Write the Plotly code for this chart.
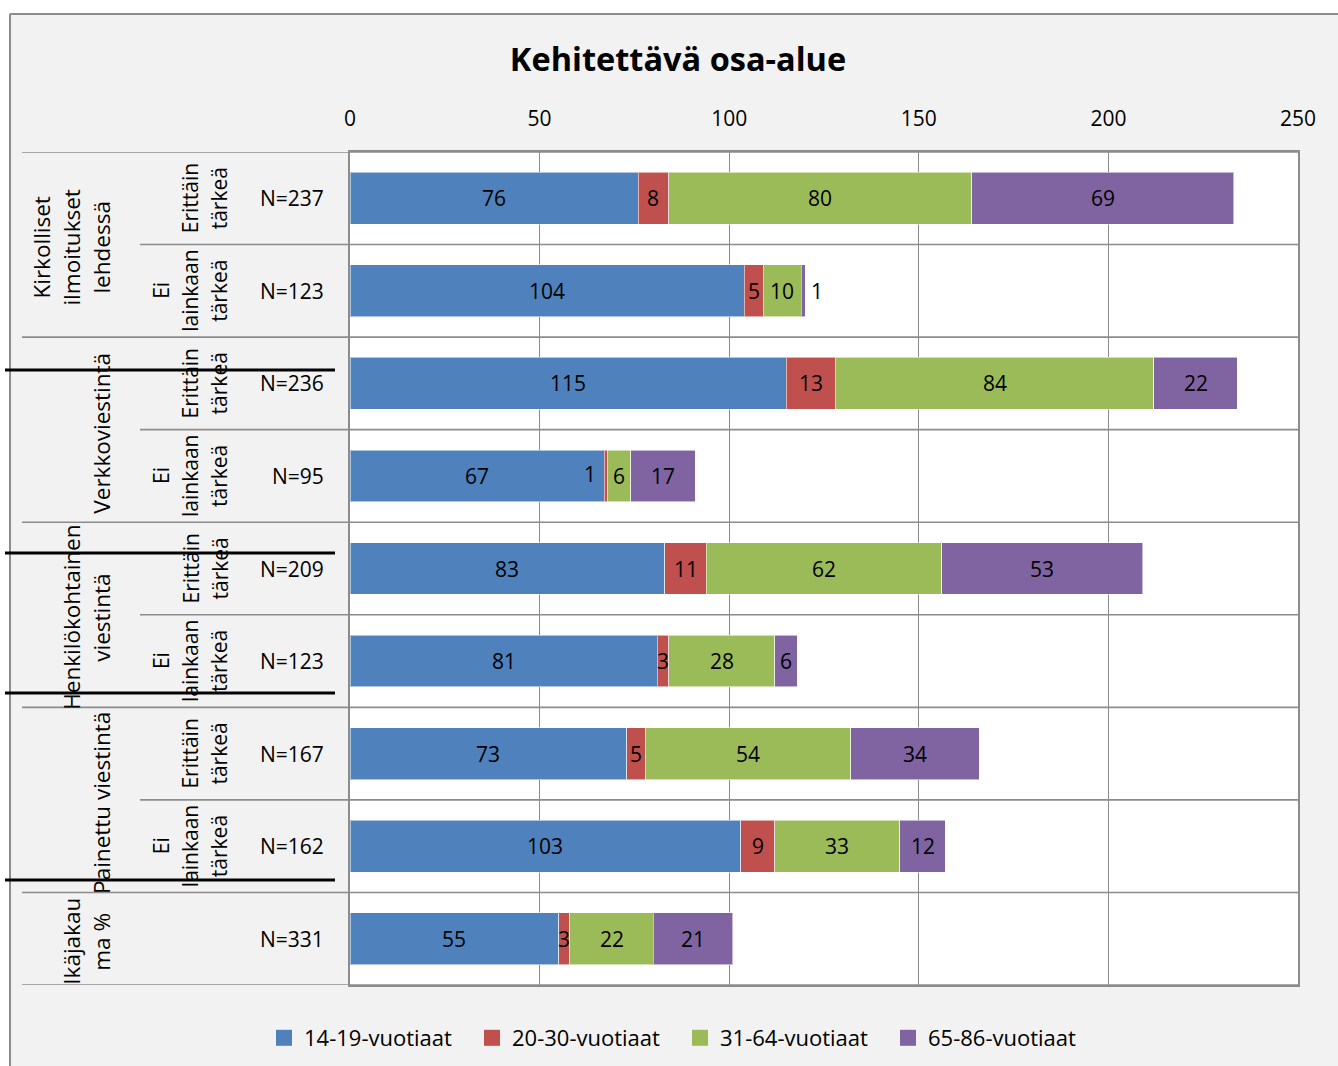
import plotly.graph_objects as go

# ---- data -------------------------------------------------------------
series_names = ["14-19-vuotiaat", "20-30-vuotiaat", "31-64-vuotiaat", "65-86-vuotiaat"]
series_colors = ["#4f81bd", "#c0504d", "#9bbb59", "#8064a2"]

age_14_19 = [76, 104, 115, 67, 83, 81, 73, 103, 55]
age_20_30 = [8, 5, 13, 1, 11, 3, 5, 9, 3]
age_31_64 = [80, 10, 84, 6, 62, 28, 54, 33, 22]
age_65_86 = [69, 1, 22, 17, 53, 6, 34, 12, 21]

n_labels = ["N=237", "N=123", "N=236", "N=95", "N=209", "N=123", "N=167", "N=162", "N=331"]
importance = [["Erittäin", "tärkeä"], ["Ei", "lainkaan", "tärkeä"]] * 4 + [[]]
groups = [
    (["Kirkolliset", "ilmoitukset", "lehdessä"], 0, 1),
    (["Verkkoviestintä"], 2, 3),
    (["Henkilökohtainen", "viestintä"], 4, 5),
    (["Painettu viestintä"], 6, 7),
    (["Ikäjakau", "ma %"], 8, 8),
]

x_ticks = [0, 50, 100, 150, 200, 250]

# ---- geometry helpers (pixel -> paper) ---------------------------------
W, H = 1338, 1066
L, R, T, B = 350, 40, 152, 81
PW, PH = W - L - R, H - T - B


def px(xp):
    return (xp - L) / PW


def py(yp):
    return (H - B - yp) / PH


FONT = "Open Sans"
GRID = "#8c8c8c"
rows = list(range(len(n_labels)))
all_series = [age_14_19, age_20_30, age_31_64, age_65_86]

fig = go.Figure()
for name, color, vals in zip(series_names, series_colors, all_series):
    fig.add_trace(go.Bar(
        y=rows, x=vals, name=name, orientation="h", showlegend=False,
        marker=dict(color=color, line=dict(color="rgba(255,255,255,0.55)", width=1)),
        width=0.56, hoverinfo="x+name",
    ))
# legend entries with square swatches
for name, color in zip(series_names, series_colors):
    fig.add_trace(go.Scatter(
        x=[None], y=[None], mode="markers", name=name,
        marker=dict(symbol="square", size=18, color=color),
    ))

annotations = []
shapes = []

# value labels on the bar segments
for r in rows:
    start = 0
    n_seg = len(all_series)
    for k, vals in enumerate(all_series):
        v = vals[r]
        ann = dict(x=start + v / 2, y=r, xref="x", yref="y", text=str(v), xanchor="center",
                   showarrow=False, font=dict(family=FONT, size=21, color="#000"))
        if v < 2:
            if k == n_seg - 1:
                ann.update(x=start + v, xanchor="left", xshift=4)
            else:
                ann.update(x=start, xanchor="right", xshift=-6, yshift=2)
        annotations.append(ann)
        start += v

# N labels
for r, lab in enumerate(n_labels):
    annotations.append(dict(x=px(326), y=r, xref="paper", yref="y", text=lab,
                            xanchor="right", showarrow=False,
                            font=dict(family=FONT, size=21, color="#000")))

# importance labels (rotated, one annotation per line)
for r, lines in enumerate(importance):
    n = len(lines)
    for k, line in enumerate(lines):
        xc = 219 - 29 * (n - 1 - k)
        annotations.append(dict(x=px(xc), y=r, xref="paper", yref="y", text=line,
                                textangle=-90, showarrow=False, xanchor="center",
                                yanchor="middle",
                                font=dict(family=FONT, size=21, color="#000")))

# group labels
for lines, r0, r1 in groups:
    n = len(lines)
    for k, line in enumerate(lines):
        xc = 102 - 30 * (n - 1 - k)
        annotations.append(dict(x=px(xc), y=(r0 + r1) / 2, xref="paper", yref="y", text=line,
                                textangle=-90, showarrow=False, xanchor="center",
                                yanchor="middle", yshift=-3,
                                font=dict(family=FONT, size=22.5, color="#000")))

# row separators: full width between groups, shorter between sub rows
group_starts = {g[1] for g in groups}
for b in range(len(rows) + 1):
    yb = b - 0.5
    x0 = px(22) if (b in group_starts or b == len(rows)) else px(140)
    shapes.append(dict(type="line", xref="paper", yref="y", x0=x0, x1=1, y0=yb, y1=yb,
                       line=dict(color=GRID, width=1.6), layer="above"))

# outer chart border and white margin strips
shapes += [
    dict(type="rect", xref="paper", yref="paper", x0=px(0), x1=px(10), y0=py(H + 5), y1=py(-5),
         fillcolor="white", line=dict(width=0), layer="above"),
    dict(type="rect", xref="paper", yref="paper", x0=px(0), x1=px(W + 5), y0=py(14), y1=py(-5),
         fillcolor="white", line=dict(width=0), layer="above"),
    dict(type="line", xref="paper", yref="paper", x0=px(10), x1=px(10), y0=py(14), y1=py(H + 5),
         line=dict(color=GRID, width=2), layer="above"),
    dict(type="line", xref="paper", yref="paper", x0=px(10), x1=px(W + 5), y0=py(14), y1=py(14),
         line=dict(color=GRID, width=2), layer="above"),
]

# black marker strokes across the label column
for yb in [370, 553, 693, 880]:
    shapes.append(dict(type="line", xref="paper", yref="paper", x0=px(5), x1=px(335),
                       y0=py(yb), y1=py(yb), line=dict(color="#000", width=3), layer="above"))

fig.update_layout(
    width=W, height=H,
    margin=dict(l=L, r=R, t=T, b=B, pad=0),
    paper_bgcolor="#f2f2f2", plot_bgcolor="white",
    barmode="stack", bargap=0.44,
    font=dict(family=FONT, size=21, color="#000"),
    title=dict(text="<b>Kehitettävä osa-alue</b>", x=678 / W, xanchor="center",
               y=1 - 60 / H, yanchor="middle", font=dict(family=FONT, size=32.5, color="#000")),
    xaxis=dict(range=[0, 250], tickvals=x_ticks, side="top", showgrid=True, gridcolor=GRID,
               gridwidth=1.3, zeroline=False, showline=True, mirror=True, linecolor=GRID,
               linewidth=1.6, ticks="", ticklabelstandoff=16,
               tickfont=dict(family=FONT, size=21, color="#000")),
    yaxis=dict(range=[len(rows) - 0.5, -0.5], showticklabels=False, showgrid=False,
               zeroline=False, showline=True, mirror=True, linecolor=GRID, linewidth=1.6,
               ticks=""),
    legend=dict(orientation="h", xref="container", yref="container", x=680 / W, xanchor="center",
                y=1 - 1038 / H, yanchor="middle", font=dict(family=FONT, size=22, color="#000"),
                bgcolor="rgba(0,0,0,0)", itemwidth=30, entrywidth=163, traceorder="normal"),
    showlegend=True,
    annotations=annotations, shapes=shapes,
)

fig.write_html("out.html")
